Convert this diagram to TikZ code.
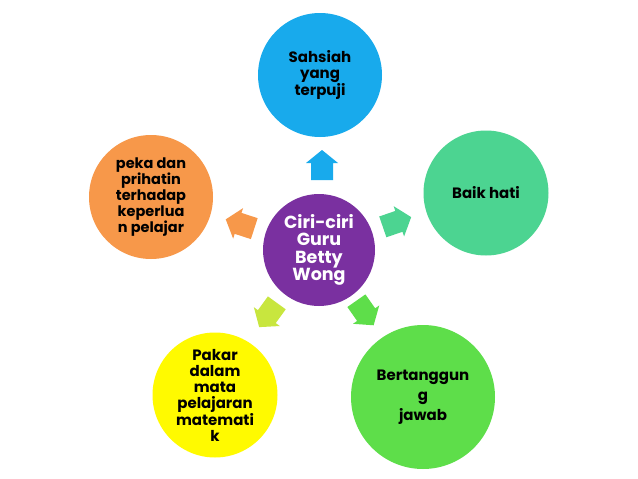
\documentclass[tikz,border=0pt]{standalone}
\usepackage{fontspec}
\setmainfont{Poppins}
\definecolor{cblue}{RGB}{24,170,236}
\definecolor{cteal}{RGB}{76,212,145}
\definecolor{cgreen}{RGB}{94,222,74}
\definecolor{cyellow}{RGB}{255,250,0}
\definecolor{corange}{RGB}{247,152,74}
\definecolor{cpurple}{RGB}{122,48,160}
\definecolor{clime}{RGB}{200,230,62}
\tikzset{
  bubble/.style={circle,draw=none,inner sep=0pt,align=center,font=\bfseries\fontsize{15}{15.5}\selectfont,text=black},
}
\newcommand{\blockarr}[3]{% color, position, visual angle
  \fill[#1,shift={#2},rotate=#3] (-15,-11) -- (2,-11) -- (2,-16) -- (15,0) -- (2,16) -- (2,11) -- (-15,11) -- cycle;}
\begin{document}
\begin{tikzpicture}[x=1pt,y=-1pt]
\useasboundingbox[fill=white] (0,0) rectangle (638,479);
\node[bubble,fill=cpurple,minimum size=112pt,text=white,font=\bfseries\fontsize{17.5}{17.5}\selectfont] (c) at (319,250) {Ciri-ciri\\Guru\\Betty\\Wong};
\node[bubble,fill=cblue,minimum size=124pt] (b1) at (320,75) {Sahsiah\\yang\\terpuji};
\node[bubble,fill=cteal,minimum size=125pt] (b2) at (486,193) {Baik hati};
\node[bubble,fill=cgreen,minimum size=144pt,font=\bfseries\fontsize{15}{20}\selectfont] (b3) at (423,397) {Bertanggun\\g\\jawab};
\node[bubble,fill=cyellow,minimum size=125pt,font=\bfseries\fontsize{15}{16}\selectfont] (b4) at (215,395) {Pakar\\dalam\\mata\\pelajaran\\matemati\\k};
\node[bubble,fill=corange,minimum size=124pt,font=\bfseries\fontsize{14.5}{13.5}\selectfont] (b5) at (151,197) {peka dan\\prihatin\\terhadap\\keperlua\\n pelajar};
\coordinate (a1) at (322,165);
\coordinate (a2) at (397,222);
\coordinate (a3) at (365,313);
\coordinate (a4) at (268,315);
\coordinate (a5) at (240,224);
\blockarr{cblue}{(a1)}{90}
\blockarr{cteal}{(a2)}{19}
\blockarr{cgreen}{(a3)}{-55}
\blockarr{clime}{(a4)}{234}
\blockarr{corange}{(a5)}{162}
\end{tikzpicture}
\end{document}
